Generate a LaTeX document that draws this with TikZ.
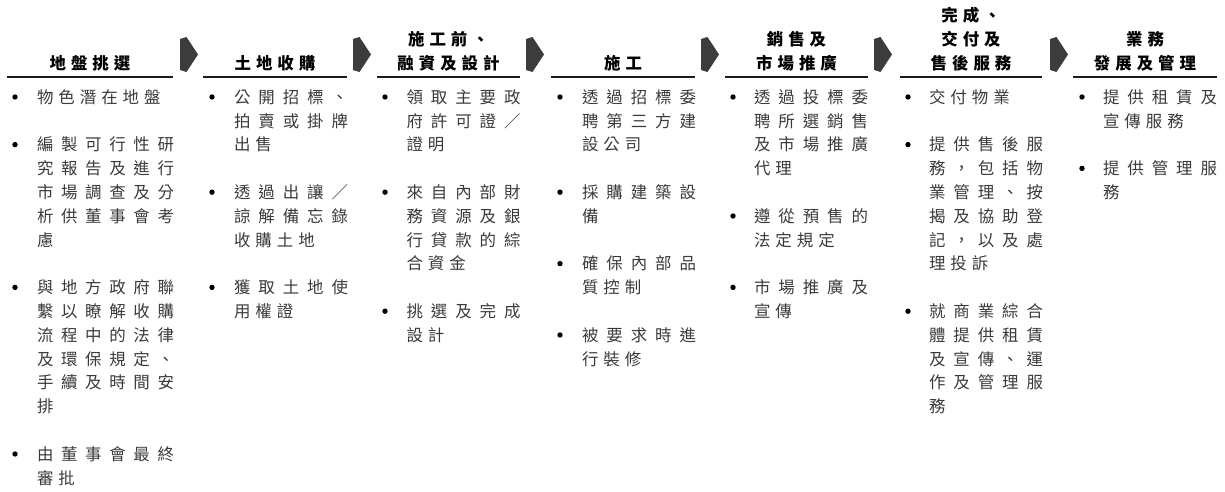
\documentclass[tikz,border=0pt]{standalone}
\usepackage{fontspec}
\newfontfamily\cjk{Noto Sans CJK TC}
\definecolor{bodygray}{HTML}{3A3A3A}
\definecolor{arrowgray}{HTML}{3C3C3C}
\definecolor{rulec}{HTML}{1A1A1A}
\newlength\colw
\newdimen\cgap
\cgap=5bp
\makeatletter
\def\spreadit#1{\spread@a#1\spread@nil}
\def\spread@a#1#2{#1\ifx#2\spread@nil\else\hskip\cgap plus 1fil\relax\expandafter\spread@a\expandafter#2\fi}
\makeatother
\newcommand\fullln[4]{\node[body] (#1) at (#2,{103.3+23.8*#3}) {\hbox to \colw{\spreadit{#4}}};}
\newcommand\natln[4]{\node[body] (#1) at (#2,{103.3+23.8*#3}) {\spreadit{#4}};}
\newcommand\bul[3]{\node[bulletdot] (#1) at (#2,{97+23.8*#3}) {};}
\newcommand\chev[2]{\coordinate (#1) at (#2,37);
  \fill[chevron] (#2,39) -- (#2+6.5,37) -- (#2+18,54.5) -- (#2+6.5,72) -- (#2,70) -- cycle;}
\begin{document}
\begin{tikzpicture}[x=1bp,y=-1bp,
  body/.style={inner sep=0pt,outer sep=0pt,anchor=base west,text=bodygray,font=\cjk\fontsize{16.5}{19}\selectfont},
  head/.style={inner sep=0pt,outer sep=0pt,anchor=base,text=black,font=\cjk\bfseries\fontsize{16.5}{19}\selectfont},
  bulletdot/.style={circle,fill=black,inner sep=0pt,minimum size=5.4bp},
  hrule/.style={draw=rulec,line width=2.4bp},
  chevron/.style={fill=arrowgray}]
\useasboundingbox (0,0) rectangle (1225,492);

% headers
\node[head] (h1) at (90,69.8) {\spreadit{地盤挑選}};
\node[head] (h2) at (275,69.8) {\spreadit{土地收購}};
\node[head] (h3a) at (448.5,45.8) {\spreadit{施工前、}};
\node[head] (h3b) at (448.5,69.8) {\spreadit{融資及設計}};
\node[head] (h4) at (623,69.8) {\spreadit{施工}};
\node[head] (h5a) at (796.5,45.8) {\spreadit{銷售及}};
\node[head] (h5b) at (796.5,69.8) {\spreadit{市場推廣}};
\node[head] (h6a) at (971,21.8) {\spreadit{完成、}};
\node[head] (h6b) at (971,45.8) {\spreadit{交付及}};
\node[head] (h6c) at (971,69.8) {\spreadit{售後服務}};
\node[head] (h7a) at (1145,45.8) {\spreadit{業務}};
\node[head] (h7b) at (1145,69.8) {\spreadit{發展及管理}};

% rules
\draw[hrule] (7,77) -- (173,77);
\draw[hrule] (203,77) -- (347,77);
\draw[hrule] (377,77) -- (520,77);
\draw[hrule] (551,77) -- (695,77);
\draw[hrule] (725,77) -- (868,77);
\draw[hrule] (900,77) -- (1042,77);
\draw[hrule] (1073,77) -- (1217,77);

% chevrons
\chev{a1}{180}
\chev{a2}{353}
\chev{a3}{526}
\chev{a4}{701}
\chev{a5}{874}
\chev{a6}{1050}

% column 1
\setlength\colw{137bp}
\bul{b11}{15}{0} \natln{t1a}{37}{0}{物色潛在地盤}
\bul{b12}{15}{2} \fullln{t1b}{37}{2}{編製可行性研}
\fullln{t1c}{37}{3}{究報告及進行}
\fullln{t1d}{37}{4}{市場調查及分}
\fullln{t1e}{37}{5}{析供董事會考}
\natln{t1f}{37}{6}{慮}
\bul{b13}{15}{8} \fullln{t1g}{37}{8}{與地方政府聯}
\fullln{t1h}{37}{9}{繫以瞭解收購}
\fullln{t1i}{37}{10}{流程中的法律}
\fullln{t1j}{37}{11}{及環保規定、}
\fullln{t1k}{37}{12}{手續及時間安}
\natln{t1l}{37}{13}{排}
\bul{b14}{15}{15} \fullln{t1m}{37}{15}{由董事會最終}
\natln{t1n}{37}{16}{審批}

% column 2
\setlength\colw{114bp}
\bul{b21}{212}{0} \fullln{t2a}{234}{0}{公開招標、}
\fullln{t2b}{234}{1}{拍賣或掛牌}
\natln{t2c}{234}{2}{出售}
\bul{b22}{212}{4} \fullln{t2d}{234}{4}{透過出讓／}
\fullln{t2e}{234}{5}{諒解備忘錄}
\natln{t2f}{234}{6}{收購土地}
\bul{b23}{212}{8} \fullln{t2g}{234}{8}{獲取土地使}
\natln{t2h}{234}{9}{用權證}

% column 3
\bul{b31}{385}{0} \fullln{t3a}{406.5}{0}{領取主要政}
\fullln{t3b}{406.5}{1}{府許可證／}
\natln{t3c}{406.5}{2}{證明}
\bul{b32}{385}{4} \fullln{t3d}{406.5}{4}{來自內部財}
\fullln{t3e}{406.5}{5}{務資源及銀}
\fullln{t3f}{406.5}{6}{行貸款的綜}
\natln{t3g}{406.5}{7}{合資金}
\bul{b33}{385}{9} \fullln{t3h}{406.5}{9}{挑選及完成}
\natln{t3i}{406.5}{10}{設計}

% column 4
\bul{b41}{560}{0} \fullln{t4a}{582}{0}{透過招標委}
\fullln{t4b}{582}{1}{聘第三方建}
\natln{t4c}{582}{2}{設公司}
\bul{b42}{560}{4} \fullln{t4d}{582}{4}{採購建築設}
\natln{t4e}{582}{5}{備}
\bul{b43}{560}{7} \fullln{t4f}{582}{7}{確保內部品}
\natln{t4g}{582}{8}{質控制}
\bul{b44}{560}{10} \fullln{t4h}{582}{10}{被要求時進}
\natln{t4i}{582}{11}{行裝修}

% column 5
\bul{b51}{733}{0} \fullln{t5a}{754}{0}{透過投標委}
\fullln{t5b}{754}{1}{聘所選銷售}
\fullln{t5c}{754}{2}{及市場推廣}
\natln{t5d}{754}{3}{代理}
\bul{b52}{733}{5} \fullln{t5e}{754}{5}{遵從預售的}
\natln{t5f}{754}{6}{法定規定}
\bul{b53}{733}{8} \fullln{t5g}{754}{8}{市場推廣及}
\natln{t5h}{754}{9}{宣傳}

% column 6
\bul{b61}{908}{0} \natln{t6a}{929}{0}{交付物業}
\bul{b62}{908}{2} \fullln{t6b}{929}{2}{提供售後服}
\fullln{t6c}{929}{3}{務，包括物}
\fullln{t6d}{929}{4}{業管理、按}
\fullln{t6e}{929}{5}{揭及協助登}
\fullln{t6f}{929}{6}{記，以及處}
\natln{t6g}{929}{7}{理投訴}
\bul{b63}{908}{9} \fullln{t6h}{929}{9}{就商業綜合}
\fullln{t6i}{929}{10}{體提供租賃}
\fullln{t6j}{929}{11}{及宣傳、運}
\fullln{t6k}{929}{12}{作及管理服}
\natln{t6l}{929}{13}{務}

% column 7
\bul{b71}{1082}{0} \fullln{t7a}{1103}{0}{提供租賃及}
\natln{t7b}{1103}{1}{宣傳服務}
\bul{b72}{1082}{3} \fullln{t7c}{1103}{3}{提供管理服}
\natln{t7d}{1103}{4}{務}
\end{tikzpicture}
\end{document}
